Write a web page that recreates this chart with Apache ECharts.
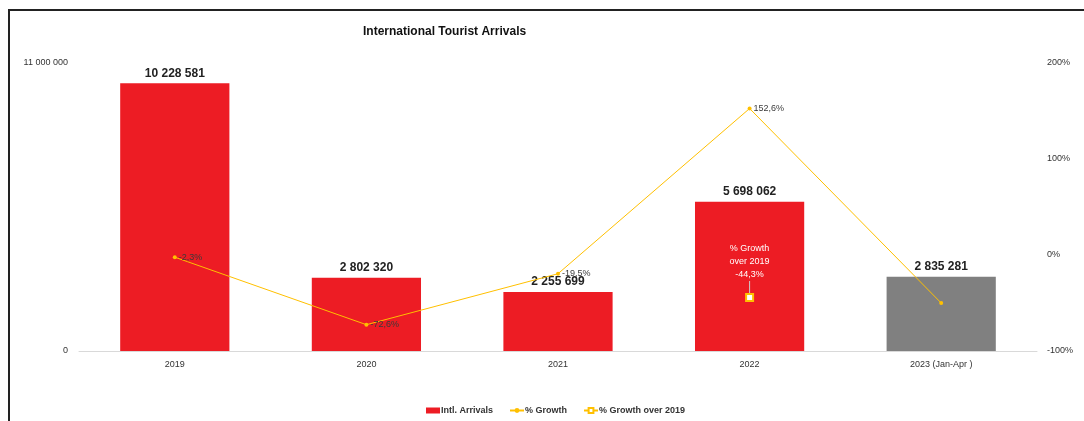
<!DOCTYPE html>
<html>
<head>
<meta charset="utf-8">
<script src="https://cdn.jsdelivr.net/npm/echarts@6/dist/echarts.min.js"></script>
<style>
  html, body { margin: 0; padding: 0; background: #fff; }
  #chart { width: 1084px; height: 421px; }
  #frame {
    position: absolute; left: 8px; top: 9px; right: -4px; bottom: -4px;
    border-top: 2px solid #222; border-left: 2px solid #222;
    pointer-events: none;
  }
</style>
</head>
<body>
<div id="chart"></div>
<div id="frame"></div>
<script>
const categories = ["2019", "2020", "2021", "2022", "2023 (Jan-Apr )"];
const arrivals = [10228581, 2802320, 2255699, 5698062, 2835281];
const growth = [-2.3, -72.6, -19.5, 152.6, -50.0];
const growthOver2019 = [null, null, null, -44.3, null];

const red = "#ED1C24";
const grey = "#808080";
const gold = "#FFC000";
const font = "Liberation Sans";

function spaced(v) {
  return String(v).replace(/\B(?=(\d{3})+(?!\d))/g, " ");
}
function pct(v) {
  return v.toFixed(1).replace(".", ",") + "%";
}

const chart = echarts.init(document.getElementById("chart"), null, { renderer: "canvas" });

chart.setOption({
  animation: false,
  backgroundColor: "#fff",
  textStyle: { fontFamily: font },
  title: {
    text: "International Tourist Arrivals",
    left: 358,
    top: 21,
    textStyle: { fontFamily: font, fontSize: 12, fontWeight: 600, color: "#111" },
  },
  grid: { left: 79, right: 47, top: 63, bottom: 70 },
  legend: {
    bottom: 1,
    left: 421,
    itemGap: 16,
    itemWidth: 14,
    itemHeight: 6,
    textStyle: { fontFamily: font, fontSize: 9, fontWeight: "bold", color: "#333", padding: [0, 0, 0, -4] },
    data: [
      { name: "Intl. Arrivals", icon: "rect" },
      "% Growth",
      "% Growth over 2019",
    ],
  },
  xAxis: {
    type: "category",
    data: categories,
    axisLine: { lineStyle: { color: "#d9d9d9", width: 1 } },
    axisTick: { show: false },
    axisLabel: { color: "#333", fontSize: 9, margin: 9 },
  },
  yAxis: [
    {
      type: "value",
      min: 0,
      max: 11000000,
      interval: 11000000,
      splitLine: { show: false },
      axisLine: { show: false },
      axisTick: { show: false },
      axisLabel: { color: "#333", fontSize: 9, margin: 11, formatter: spaced },
    },
    {
      type: "value",
      min: -100,
      max: 200,
      interval: 100,
      position: "right",
      splitLine: { show: false },
      axisLine: { show: false },
      axisTick: { show: false },
      axisLabel: { color: "#333", fontSize: 9, margin: 10, formatter: (v) => v + "%" },
    },
  ],
  series: [
    {
      name: "Intl. Arrivals",
      type: "bar",
      yAxisIndex: 0,
      barWidth: "57%",
      itemStyle: { color: red },
      data: arrivals.map((v, i) => ({
        value: v,
        itemStyle: { color: i === arrivals.length - 1 ? grey : red },
      })),
      label: {
        show: true,
        position: "top",
        distance: 4,
        fontFamily: font,
        fontSize: 12,
        fontWeight: "bold",
        color: "#222",
        formatter: (p) => spaced(p.value),
      },
    },
    {
      name: "% Growth",
      type: "line",
      yAxisIndex: 1,
      data: growth,
      symbol: "circle",
      symbolSize: 4,
      lineStyle: { color: gold, width: 1 },
      itemStyle: { color: gold },
      label: {
        show: true,
        position: "right",
        distance: 2,
        fontSize: 9,
        color: "#3a3a3a",
        formatter: (p) => (p.dataIndex === growth.length - 1 ? "" : pct(p.value)),
      },
      z: 3,
    },
    {
      name: "% Growth over 2019",
      type: "line",
      yAxisIndex: 1,
      data: growthOver2019,
      symbol: "rect",
      symbolSize: 7,
      lineStyle: { color: gold, width: 1 },
      itemStyle: { color: "#fff", borderColor: gold, borderWidth: 2 },
      label: {
        show: true,
        position: "top",
        distance: 4,
        fontSize: 9,
        lineHeight: 13,
        color: "#fff",
        align: "center",
        formatter: (p) => "% Growth\nover 2019\n" + pct(p.value),
      },
      labelLayout: { dy: -8 },
      labelLine: { show: true, length2: 0, lineStyle: { color: "#ccc", width: 1 } },
      z: 4,
    },
  ],
});
</script>
</body>
</html>
